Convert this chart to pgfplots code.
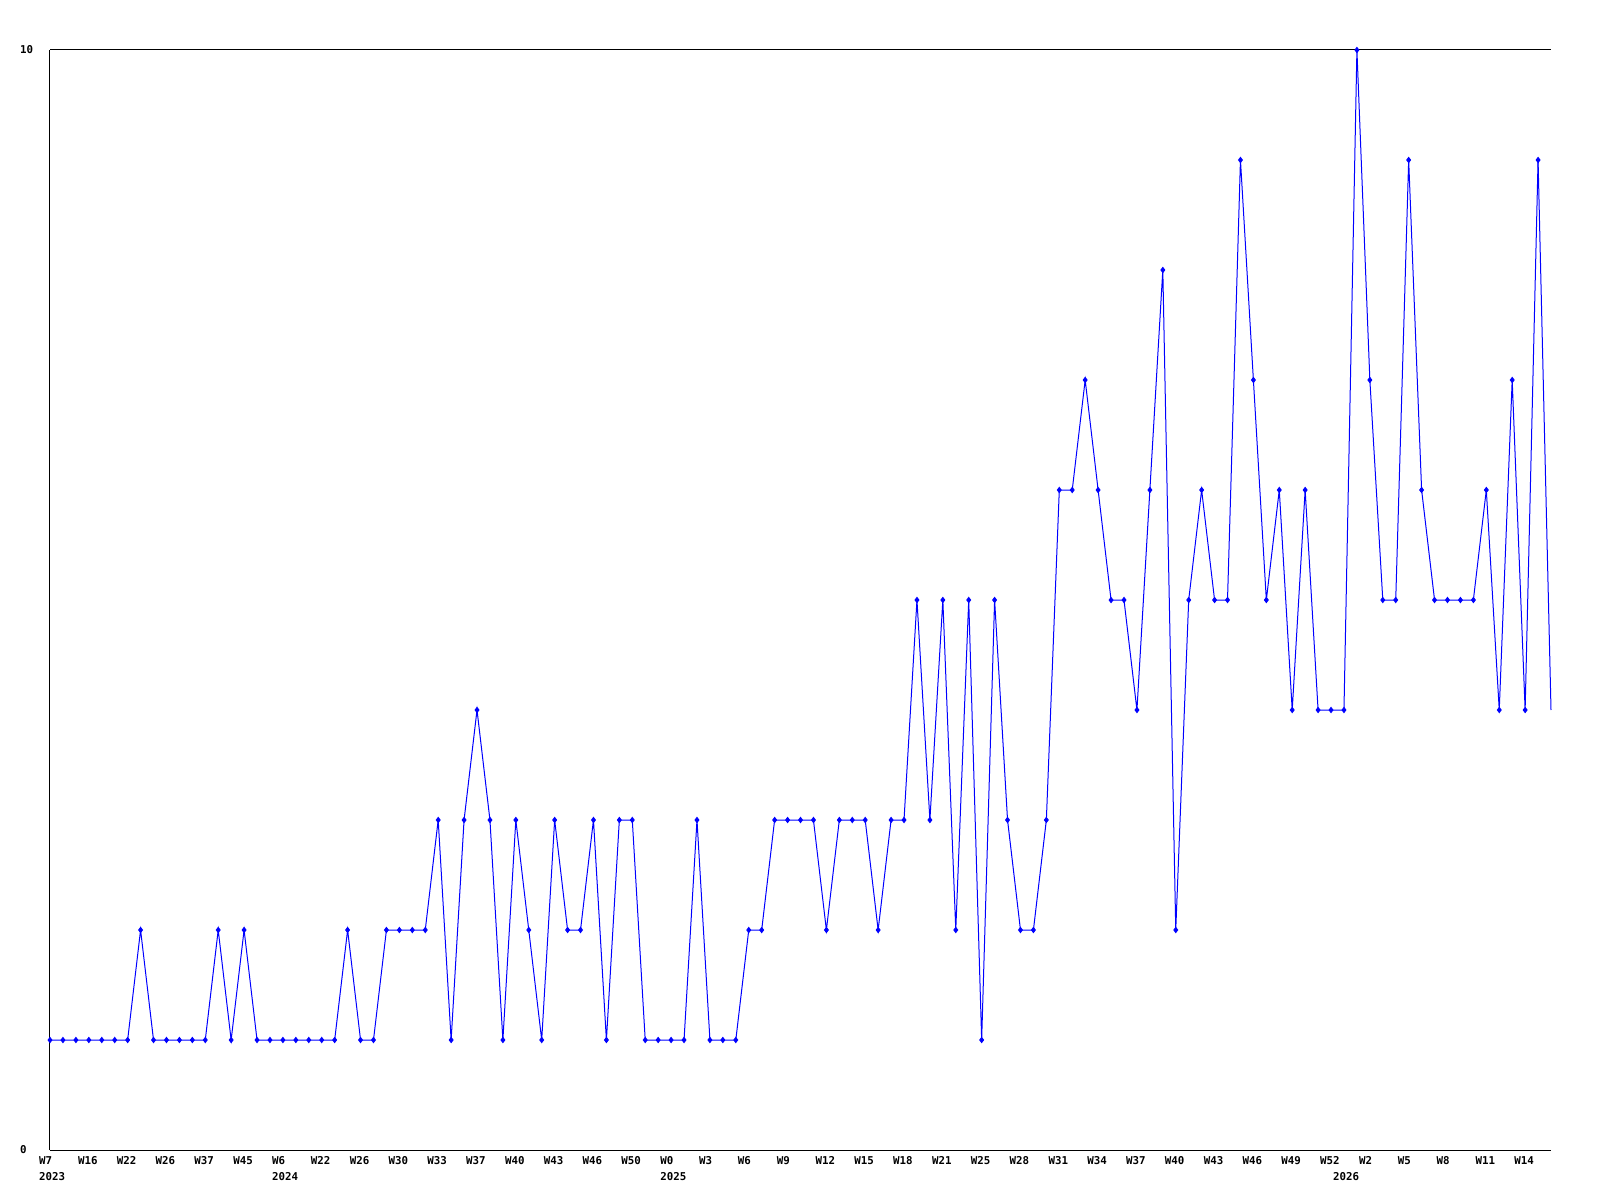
\documentclass[border=0pt]{standalone}
\usepackage{pgfplots}
\pgfplotsset{compat=1.18}
\usepackage{fontspec}
\setmainfont{DejaVu Sans Mono Bold}
\definecolor{lineblue}{RGB}{0,0,255}

\begin{document}
\begin{tikzpicture}
% page = 1600 x 1200 px, 1 px = 1 pt; axis box from (50,50) to (1551,1150)
\useasboundingbox (-50pt,-50pt) rectangle (1550pt,1150pt);
\begin{axis}[
    scale only axis,
    width=1501pt, height=1100pt,
    xmin=0, xmax=116,
    ymin=0, ymax=10,
    clip=false,
    axis x line=bottom, axis y line=left,
    axis line style={-, black, line width=1pt},
    major tick length=0pt,
    ytick={0,10},
    yticklabels={0,10},
    ymajorgrids,
    grid style={black, line width=1pt},
    xtick={0,3,...,114},
    xticklabels={W7,W16,W22,W26,W37,W45,W6,W22,W26,W30,W33,W37,W40,W43,W46,W50,W0,W3,W6,W9,W12,W15,W18,W21,W25,W28,W31,W34,W37,W40,W43,W46,W49,W52,W2,W5,W8,W11,W14},
    extra x ticks={0,18,48,100},
    extra x tick labels={2023,2024,2025,2026},
    extra x tick style={
        xticklabel style={yshift=-16pt},
        grid=none},
    tick label style={font=\fontsize{10.8}{16}\selectfont, inner sep=0pt},
    xticklabel style={anchor=north west, xshift=-11pt, yshift=-6pt},
    yticklabel style={anchor=west, xshift=-30pt},
]
% weekly values with marks (last point drawn without a mark)
\addplot[color=lineblue, line width=1pt, mark=diamond*, mark size=2.5pt,
         mark options={solid, fill=lineblue}]
  coordinates {
    (0,1) (1,1) (2,1) (3,1) (4,1) (5,1) (6,1) (7,2) (8,1) (9,1)
    (10,1) (11,1) (12,1) (13,2) (14,1) (15,2) (16,1) (17,1) (18,1) (19,1)
    (20,1) (21,1) (22,1) (23,2) (24,1) (25,1) (26,2) (27,2) (28,2) (29,2)
    (30,3) (31,1) (32,3) (33,4) (34,3) (35,1) (36,3) (37,2) (38,1) (39,3)
    (40,2) (41,2) (42,3) (43,1) (44,3) (45,3) (46,1) (47,1) (48,1) (49,1)
    (50,3) (51,1) (52,1) (53,1) (54,2) (55,2) (56,3) (57,3) (58,3) (59,3)
    (60,2) (61,3) (62,3) (63,3) (64,2) (65,3) (66,3) (67,5) (68,3) (69,5)
    (70,2) (71,5) (72,1) (73,5) (74,3) (75,2) (76,2) (77,3) (78,6) (79,6)
    (80,7) (81,6) (82,5) (83,5) (84,4) (85,6) (86,8) (87,2) (88,5) (89,6)
    (90,5) (91,5) (92,9) (93,7) (94,5) (95,6) (96,4) (97,6) (98,4) (99,4)
    (100,4) (101,10) (102,7) (103,5) (104,5) (105,9) (106,6) (107,5) (108,5) (109,5)
    (110,5) (111,6) (112,4) (113,7) (114,4) (115,9)
  };
\addplot[color=lineblue, line width=1pt, no marks]
  coordinates { (115,9) (116,4) };
\end{axis}
\end{tikzpicture}
\end{document}
